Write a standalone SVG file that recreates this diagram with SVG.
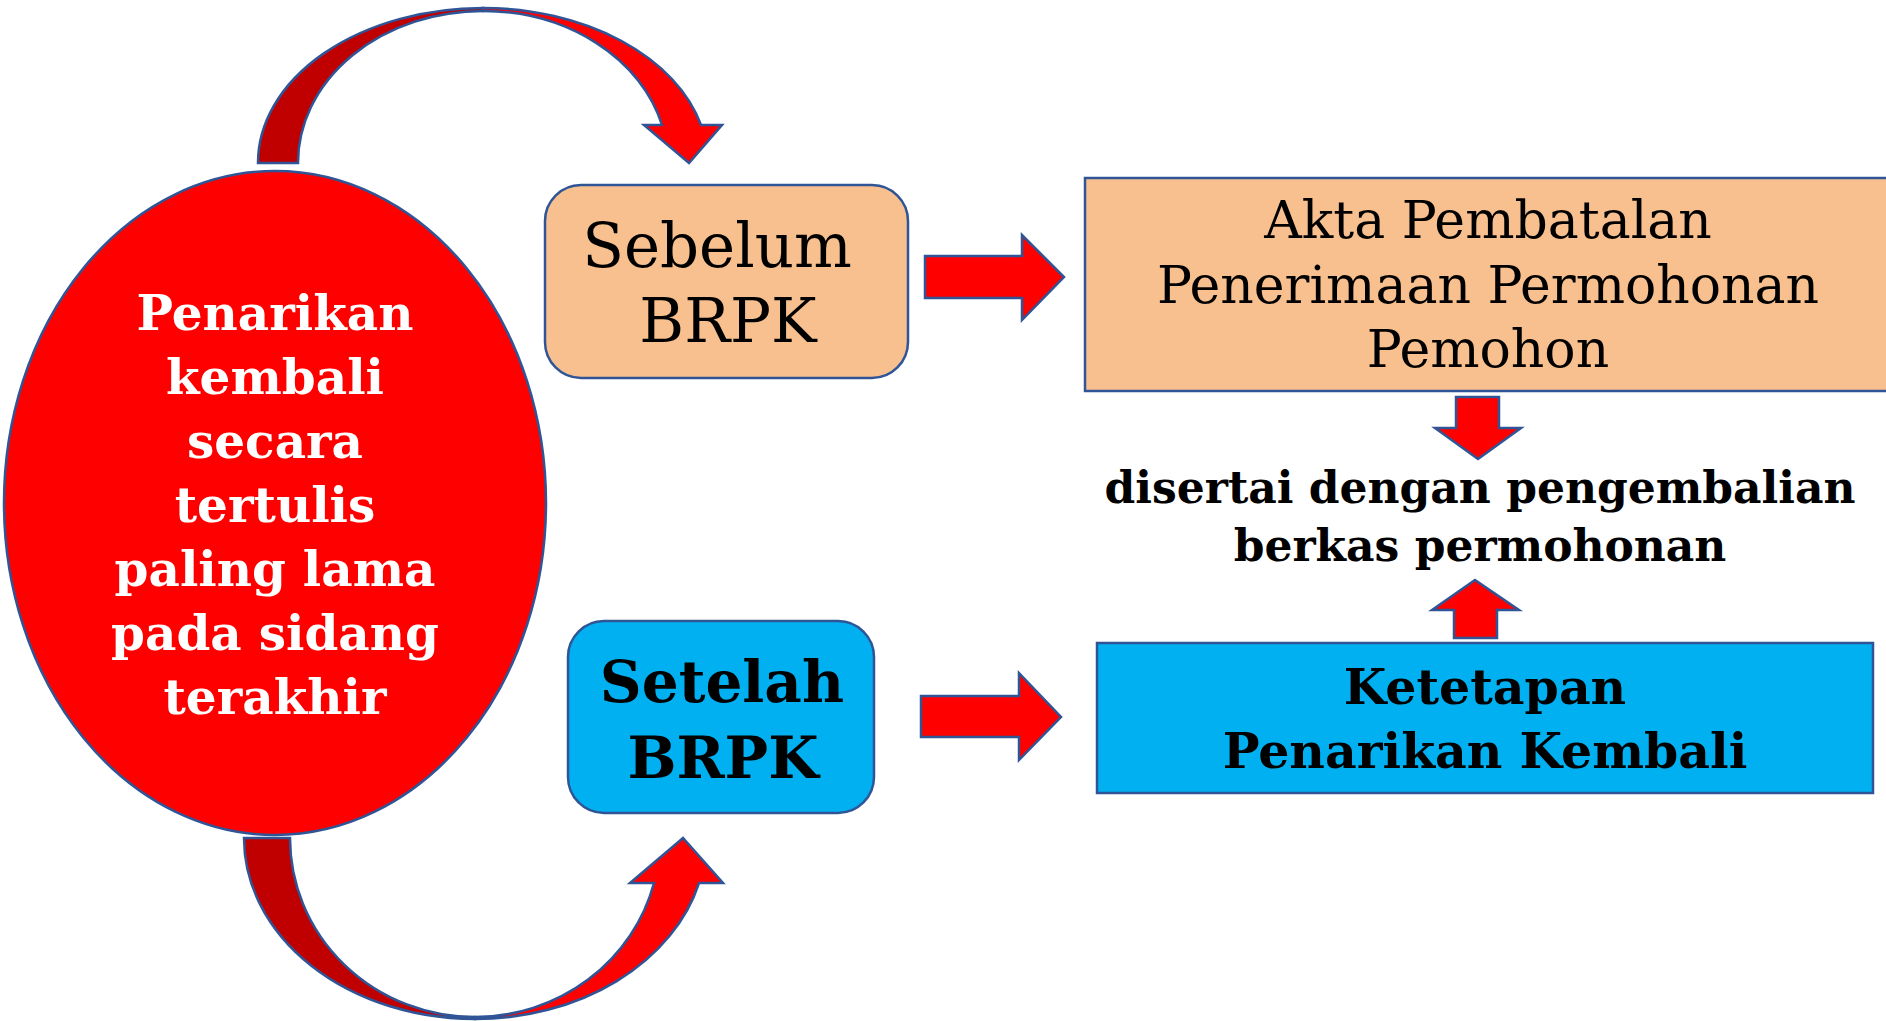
<svg xmlns="http://www.w3.org/2000/svg" width="1886" height="1021" viewBox="0 0 1886 1021">
<style>
.ln{stroke:#2F5597;stroke-width:2.5;stroke-linejoin:miter}
.dark{fill:#C00000}
.red{fill:#FF0000}
.peach{fill:#F8C08F}
.blue{fill:#00B0F0}
text{font-family:"DejaVu Serif","Liberation Serif",serif;text-anchor:middle}
.b{font-weight:bold}
.w{fill:#FFFFFF;font-size:48.5px}
.k{fill:#000000}
</style>
<rect width="1886" height="1021" fill="#FFFFFF"/>
<g id="connectors">
  <g id="curve-top">
    <path class="ln dark" d="M258,163 A225,155 0 0 1 483,8 L483,11 A185,152 0 0 0 298,163 Z"/>
    <path class="ln red" d="M483,8 A225,155 0 0 1 701,125 L722,125 L689,163 L644,125 L662,125 A185,152 0 0 0 483,11 Z"/>
  </g>
  <g id="curve-bottom">
    <path class="ln dark" d="M244,838 A231,181 0 0 0 475,1019 L475,1017 A185,179 0 0 1 290,838 Z"/>
    <path class="ln red" d="M475,1019 A231,181 0 0 0 699,883 L723,883 L683,838 L630,883 L654,883 A185,179 0 0 1 475,1017 Z"/>
  </g>
  <path class="ln red" d="M925,256 L1022,256 L1022,235 L1064,277 L1022,320 L1022,298 L925,298 Z"/>
  <path class="ln red" d="M921,696 L1019,696 L1019,673 L1061,717 L1019,760 L1019,737 L921,737 Z"/>
  <path class="ln red" d="M1456,397 L1499,397 L1499,428 L1521,428 L1478,459 L1435,428 L1456,428 Z"/>
  <path class="ln red" d="M1475,580 L1519,610 L1497,610 L1497,638 L1454,638 L1454,610 L1432,610 Z"/>
</g>
<g id="node-penarikan">
  <ellipse class="ln red" cx="275" cy="503" rx="271" ry="332" stroke-width="2"/>
  <text class="b w" x="275" y="330">Penarikan</text>
  <text class="b w" x="275" y="394">kembali</text>
  <text class="b w" x="275" y="458">secara</text>
  <text class="b w" x="275" y="522">tertulis</text>
  <text class="b w" x="275" y="586">paling lama</text>
  <text class="b w" x="275" y="650">pada sidang</text>
  <text class="b w" x="275" y="714">terakhir</text>
</g>
<g id="node-sebelum">
  <rect class="ln peach" x="545" y="185" width="363" height="193" rx="36" ry="36"/>
  <text class="k" font-size="61" x="717" y="267">Sebelum</text>
  <text class="k" font-size="61" x="728" y="342">BRPK</text>
</g>
<g id="node-akta">
  <rect class="ln peach" x="1085" y="178" width="810" height="213"/>
  <text class="k" font-size="52" x="1488" y="238">Akta Pembatalan</text>
  <text class="k" font-size="52" x="1488" y="303">Penerimaan Permohonan</text>
  <text class="k" font-size="52" x="1488" y="367">Pemohon</text>
</g>
<g id="node-disertai">
  <text class="b k" font-size="44" x="1480" y="503">disertai dengan pengembalian</text>
  <text class="b k" font-size="44" x="1480" y="561">berkas permohonan</text>
</g>
<g id="node-setelah">
  <rect class="ln blue" x="568" y="621" width="306" height="192" rx="36" ry="36"/>
  <text class="b k" font-size="58" x="722" y="702">Setelah</text>
  <text class="b k" font-size="58" x="723" y="778">BRPK</text>
</g>
<g id="node-ketetapan">
  <rect class="ln blue" x="1097" y="643" width="776" height="150"/>
  <text class="b k" font-size="49" x="1485" y="704">Ketetapan</text>
  <text class="b k" font-size="49" x="1485" y="768">Penarikan Kembali</text>
</g>
</svg>
